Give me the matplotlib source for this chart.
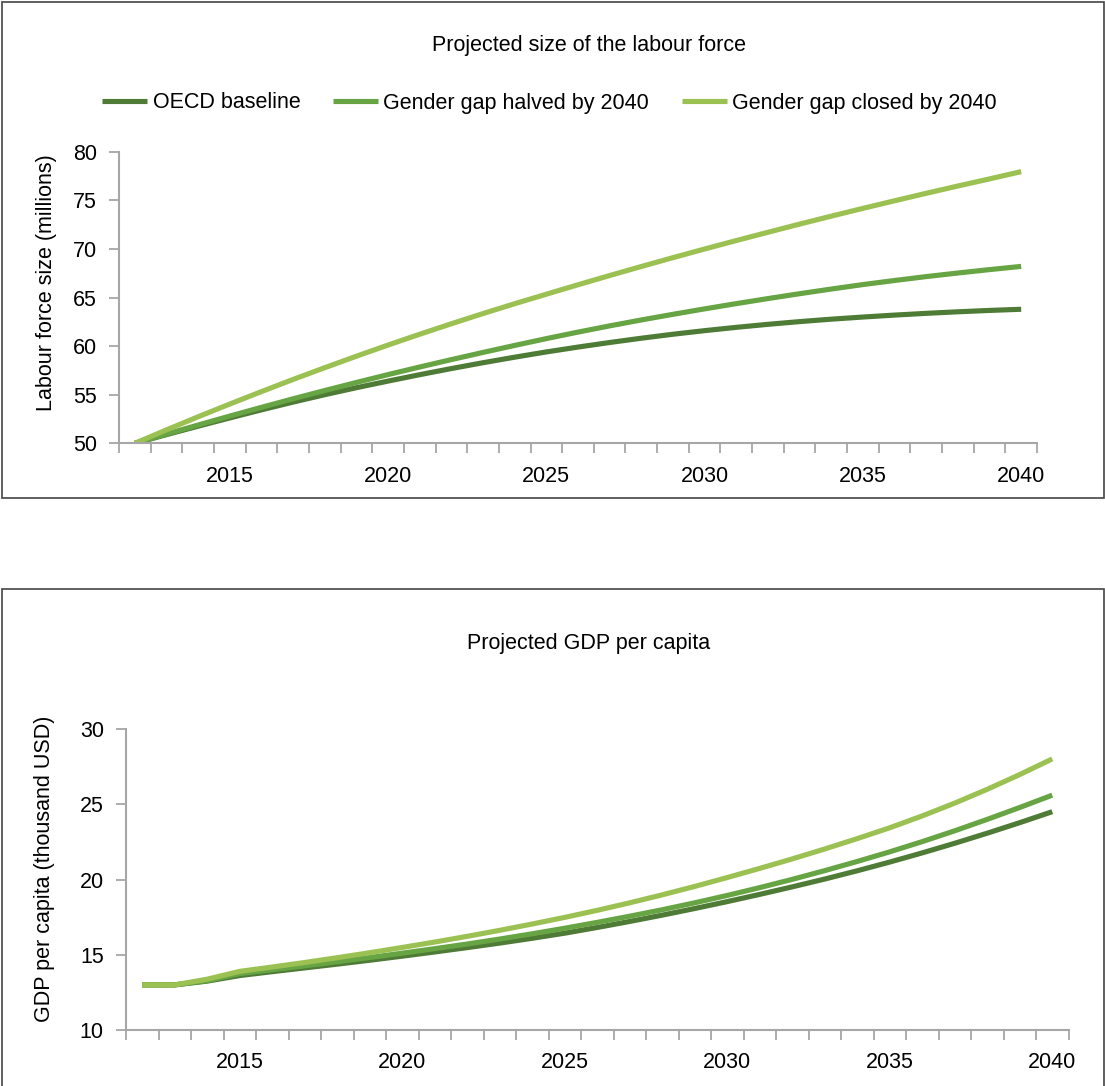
import numpy as np
import matplotlib
matplotlib.use('Agg')
import matplotlib.pyplot as plt
from matplotlib.patches import Rectangle
from matplotlib.ticker import MultipleLocator

plt.rcParams['font.family'] = ['Liberation Sans', 'DejaVu Sans']

years = list(range(2012, 2041))
series_names = ['OECD baseline', 'Gender gap halved by 2040', 'Gender gap closed by 2040']
colors = ['#4e7b35', '#67a443', '#9cc153']

# labour force size (millions)
labour_baseline = [50.00, 50.89, 51.76, 52.61, 53.44, 54.24, 55.00, 55.72, 56.40, 57.06,
                   57.69, 58.29, 58.86, 59.40, 59.90, 60.37, 60.81, 61.22, 61.59, 61.93,
                   62.24, 62.52, 62.77, 62.99, 63.19, 63.37, 63.53, 63.67, 63.79]
labour_halved = [50.00, 50.95, 51.88, 52.80, 53.70, 54.58, 55.43, 56.26, 57.07, 57.85,
                 58.61, 59.35, 60.07, 60.77, 61.44, 62.08, 62.69, 63.27, 63.83, 64.37,
                 64.89, 65.39, 65.87, 66.33, 66.75, 67.15, 67.52, 67.87, 68.20]
labour_closed = [50.00, 51.38, 52.73, 54.04, 55.32, 56.57, 57.78, 58.96, 60.11, 61.22,
                 62.30, 63.35, 64.36, 65.34, 66.31, 67.26, 68.19, 69.10, 69.99, 70.86,
                 71.71, 72.55, 73.37, 74.17, 74.95, 75.72, 76.47, 77.20, 77.95]

# GDP per capita (thousand USD)
gdp_baseline = [13.00, 13.00, 13.25, 13.62, 13.88, 14.13, 14.38, 14.64, 14.91, 15.19,
                15.48, 15.78, 16.10, 16.44, 16.82, 17.22, 17.64, 18.08, 18.54, 19.02,
                19.52, 20.04, 20.59, 21.17, 21.78, 22.42, 23.09, 23.79, 24.52]
gdp_halved = [13.00, 13.00, 13.28, 13.75, 14.01, 14.27, 14.54, 14.82, 15.11, 15.41,
              15.72, 16.05, 16.40, 16.77, 17.16, 17.57, 18.00, 18.46, 18.95, 19.47,
              20.02, 20.60, 21.21, 21.85, 22.53, 23.25, 24.01, 24.80, 25.62]
gdp_closed = [13.00, 13.00, 13.38, 13.90, 14.19, 14.49, 14.81, 15.14, 15.49, 15.85,
              16.23, 16.63, 17.05, 17.49, 17.96, 18.46, 18.99, 19.55, 20.14, 20.75,
              21.38, 22.04, 22.73, 23.45, 24.24, 25.09, 26.01, 26.99, 28.03]

year_labels = [2015, 2020, 2025, 2030, 2035, 2040]

W, H = 1105, 1086
fig = plt.figure(figsize=(W / 100, H / 100), dpi=100)
gray = '#a6a6a6'
fs = 15.5


def fx(px):
    return px / W


def fy(py):
    return 1 - py / H


# panel frames
fig.add_artist(Rectangle((fx(1.5), fy(498)), fx(1103.5) - fx(1.5), fy(2.5) - fy(498),
                         transform=fig.transFigure, fill=False, edgecolor='#444444', lw=1.2))
fig.add_artist(Rectangle((fx(1.5), fy(1095)), fx(1103.5) - fx(1.5), fy(589) - fy(1095),
                         transform=fig.transFigure, fill=False, edgecolor='#444444', lw=1.2))


def panel(box, data, ylim):
    l, t, r, b = box
    ax = fig.add_axes([fx(l), fy(b), fx(r) - fx(l), fy(t) - fy(b)])
    for vals, c, name in zip(data, colors, series_names):
        ax.plot(years, vals, color=c, lw=3.7, label=name, solid_capstyle='butt')
    ax.set_xlim(2011.5, 2040.5)
    ax.set_ylim(*ylim)
    ax.yaxis.set_major_locator(MultipleLocator(5))
    ax.set_xticks(year_labels)
    ax.set_xticks(np.arange(2011.5, 2041, 1), minor=True)
    ax.tick_params(axis='x', which='major', length=0, pad=16, labelsize=fs)
    ax.tick_params(axis='x', which='minor', length=7, width=1.3, color=gray, direction='out')
    ax.tick_params(axis='y', length=7, width=1.3, color=gray, pad=9, labelsize=fs)
    for s in ['top', 'right']:
        ax.spines[s].set_visible(False)
    for s in ['left', 'bottom']:
        ax.spines[s].set_color(gray)
        ax.spines[s].set_linewidth(1.5)
    return ax


ax1 = panel((119, 151.7, 1037, 443.3), [labour_baseline, labour_halved, labour_closed], (50, 80))
ax2 = panel((126, 729.3, 1068.5, 1030), [gdp_baseline, gdp_halved, gdp_closed], (10, 30))

fig.text(fx(589.5), fy(46), 'Projected size of the labour force', ha='center', va='center', fontsize=fs)
fig.text(fx(589), fy(643), 'Projected GDP per capita', ha='center', va='center', fontsize=fs)
fig.text(fx(47), fy(283), 'Labour force size (millions)', rotation=90, ha='center', va='center', fontsize=fs)
fig.text(fx(45), fy(869), 'GDP per capita (thousand USD)', rotation=90, ha='center', va='center', fontsize=fs)

handles, labels = ax1.get_legend_handles_labels()
fig.legend(handles, labels, loc='center', bbox_to_anchor=(fx(549.5), fy(103)), ncol=3,
           frameon=False, fontsize=fs, handlelength=2.1, handletextpad=0.25,
           columnspacing=1.5, borderpad=0)

fig.savefig('out.png', dpi=100)
